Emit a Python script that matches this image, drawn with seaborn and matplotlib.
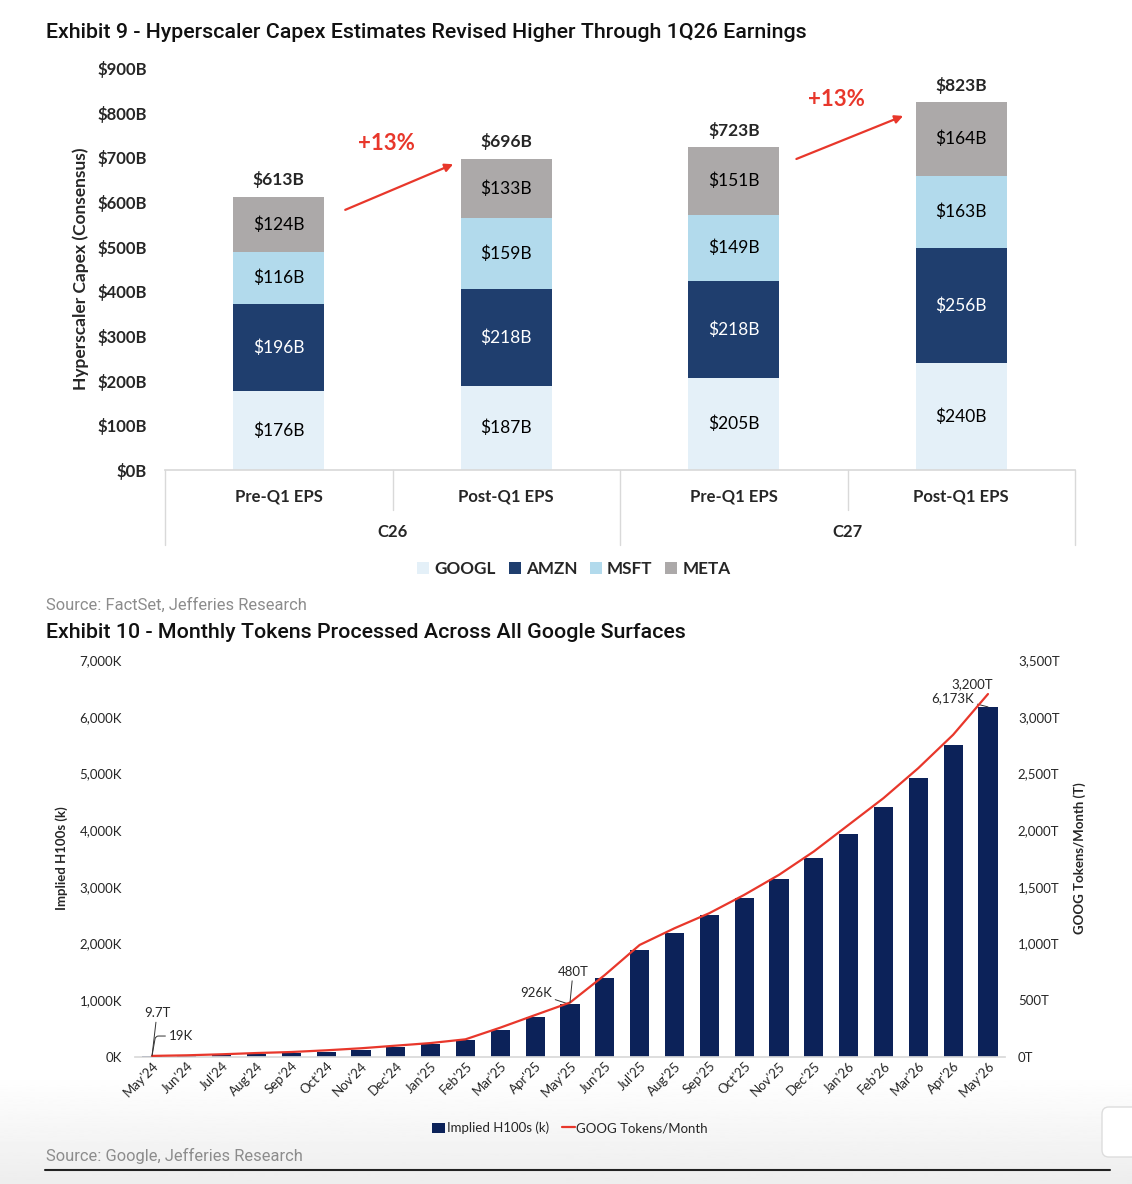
import numpy as np
import pandas as pd
import matplotlib.pyplot as plt
import matplotlib.transforms as mtransforms
from matplotlib.patches import Patch, FancyBboxPatch
from matplotlib.lines import Line2D
from matplotlib.ticker import FuncFormatter, MultipleLocator
import seaborn as sns

# ---- Exhibit 9 data (hyperscaler capex, $B) ----
bar_keys = ["C26 Pre", "C26 Post", "C27 Pre", "C27 Post"]
period_labels = ["Pre-Q1 EPS", "Post-Q1 EPS", "Pre-Q1 EPS", "Post-Q1 EPS"]
year_labels = ["C26", "C27"]
googl = [176, 187, 205, 240]
amzn = [196, 218, 218, 256]
msft = [116, 159, 149, 163]
meta = [124, 133, 151, 164]
totals = [613, 696, 723, 823]
growth_labels = ["+13%", "+13%"]

# ---- Exhibit 10 data ----
months = ["May'24", "Jun'24", "Jul'24", "Aug'24", "Sep'24", "Oct'24", "Nov'24", "Dec'24",
          "Jan'25", "Feb'25", "Mar'25", "Apr'25", "May'25", "Jun'25", "Jul'25", "Aug'25",
          "Sep'25", "Oct'25", "Nov'25", "Dec'25", "Jan'26", "Feb'26", "Mar'26", "Apr'26", "May'26"]
h100s_k = [19, 30, 40, 55, 70, 90, 125, 170, 230, 295, 480, 700, 926, 1400, 1890,
           2195, 2505, 2800, 3135, 3505, 3930, 4400, 4920, 5510, 6173]
tokens_t = [9.7, 15, 24, 35, 44, 59, 77, 100, 123, 156, 259, 370, 480, 723, 988,
            1135, 1268, 1429, 1606, 1812, 2047, 2282, 2547, 2841, 3200]

sns.set_theme(style="white")
plt.rcParams["font.family"] = ["Lato", "DejaVu Sans"]

colors = {"GOOGL": "#E4F0F8", "AMZN": "#1F3E6E", "MSFT": "#B2DAEC", "META": "#ACA9A9"}
navy = "#0C2259"
red = "#E8372B"

fig = plt.figure(figsize=(11.32, 11.84), dpi=100)

# faint grey fade at the bottom of the page
bg = fig.add_axes([0, 0, 1, 110 / 1184], zorder=-10)
grad = np.linspace(0.93, 1.0, 100).reshape(-1, 1)
bg.imshow(grad, aspect="auto", cmap="gray", vmin=0, vmax=1, origin="lower",
          extent=[0, 1, 0, 1])
bg.set_axis_off()

# ================= Exhibit 9 =================
ax = fig.add_axes([165 / 1132, 1 - 470 / 1184, 910 / 1132, 402 / 1184])
df = pd.DataFrame({"bar": bar_keys, "GOOGL": googl, "AMZN": amzn, "MSFT": msft, "META": meta})
stack = ["GOOGL", "AMZN", "MSFT", "META"]
cum = df[stack].cumsum(axis=1)
cum["bar"] = bar_keys
# stacked look: draw cumulative bars from the top layer down
for name in reversed(stack):
    sns.barplot(data=cum, x="bar", y=name, color=colors[name], width=0.4,
                saturation=1, errorbar=None, ax=ax, linewidth=0)

for name in stack:
    for i in range(len(bar_keys)):
        mid = cum[name][i] - df[name][i] / 2
        ax.text(i, mid, f"${df[name][i]}B", ha="center", va="center", fontsize=12.5,
                color="white" if name == "AMZN" else "black")
for i, t in enumerate(totals):
    ax.annotate(f"${t}B", (i, cum["META"][i]), xytext=(0, 6), textcoords="offset points",
                ha="center", va="bottom", fontsize=12.5, fontweight="bold")

# growth arrows
ax.annotate("", xy=(0.778, 687), xytext=(0.281, 580),
            arrowprops=dict(arrowstyle="-|>", color=red, lw=1.6, mutation_scale=12))
ax.annotate("", xy=(2.756, 795), xytext=(2.264, 694),
            arrowprops=dict(arrowstyle="-|>", color=red, lw=1.6, mutation_scale=12))
ax.text(0.475, 732, growth_labels[0], ha="center", va="center", color=red,
        fontsize=16, fontweight="bold")
ax.text(2.453, 830, growth_labels[1], ha="center", va="center", color=red,
        fontsize=16, fontweight="bold")

ax.set_xlim(-0.5, 3.5)
ax.set_ylim(0, 900)
ax.yaxis.set_major_locator(MultipleLocator(100))
ax.yaxis.set_major_formatter(FuncFormatter(lambda v, p: f"${v:.0f}B"))
ax.tick_params(axis="y", length=0, pad=13, labelsize=12)
for lab in ax.get_yticklabels():
    lab.set_fontweight("bold")
ax.set_xticks([])
ax.set_xlabel("")
ax.set_ylabel("Hyperscaler Capex (Consensus)", fontsize=12.5, fontweight="bold", labelpad=6)
for s in ["top", "right", "left"]:
    ax.spines[s].set_visible(False)
ax.spines["bottom"].set_color("#D9D9D9")

# multi-level category axis
trans = mtransforms.blended_transform_factory(ax.transData, ax.transAxes)
for xb in [-0.5, 1.5, 3.5]:
    ax.plot([xb, xb], [0, -0.187], transform=trans, color="#D9D9D9", lw=1, clip_on=False)
for xb in [0.5, 2.5]:
    ax.plot([xb, xb], [0, -0.100], transform=trans, color="#D9D9D9", lw=1, clip_on=False)
for i, lab in enumerate(period_labels):
    ax.text(i, -0.065, lab, transform=trans, ha="center", va="center", fontsize=12, fontweight="bold")
for j, lab in enumerate(year_labels):
    ax.text(2 * j + 0.5, -0.154, lab, transform=trans, ha="center", va="center",
            fontsize=12, fontweight="bold")

handles = [Patch(facecolor=colors[n], edgecolor="none", label=n) for n in stack]
leg = fig.legend(handles=handles, loc="center", bbox_to_anchor=(574 / 1132, 1 - 569 / 1184),
                 ncol=4, frameon=False, handlelength=0.7, handleheight=0.7,
                 handletextpad=0.3, columnspacing=0.75, prop=dict(size=12.3, weight="bold"))

fig.text(46 / 1132, 1 - 32 / 1184,
         "Exhibit 9 - Hyperscaler Capex Estimates Revised Higher Through 1Q26 Earnings",
         fontsize=15.4, fontweight="medium", family="Roboto", va="center", color="#111111")
fig.text(46 / 1132, 1 - 605 / 1184, "Source: FactSet, Jefferies Research",
         fontsize=11.9, family="Roboto", color="#8C8C8C", va="center")

# ================= Exhibit 10 =================
ax_b = fig.add_axes([134.6 / 1132, 1 - 1057 / 1184, 870.8 / 1132, 397 / 1184])
ax_b.patch.set_alpha(0)
sns.barplot(x=months, y=h100s_k, color=navy, width=0.55, saturation=1, ax=ax_b, linewidth=0)
ax_b.set_xlim(-0.5, len(months) - 0.5)
ax_b.set_ylim(0, 7000)
ax_b.yaxis.set_major_locator(MultipleLocator(1000))
ax_b.yaxis.set_major_formatter(FuncFormatter(lambda v, p: f"{v:,.0f}K"))
ax_b.tick_params(axis="both", length=0, labelsize=9.5)
ax_b.tick_params(axis="y", pad=9)
ax_b.tick_params(axis="x", pad=2)
plt.setp(ax_b.get_xticklabels(), rotation=45, ha="right", rotation_mode="anchor")
ax_b.set_ylabel("Implied H100s (k)", fontsize=9.5, fontweight="bold", labelpad=8)
for s in ["top", "right", "left"]:
    ax_b.spines[s].set_visible(False)
ax_b.spines["bottom"].set_color("#D9D9D9")

ax2 = ax_b.twinx()
sns.lineplot(x=np.arange(len(months)), y=tokens_t, ax=ax2, color=red, lw=1.6, sort=False)
ax2.set_ylim(0, 3500)
ax2.yaxis.set_major_locator(MultipleLocator(500))
ax2.yaxis.set_major_formatter(FuncFormatter(lambda v, p: f"{v:,.0f}T"))
ax2.tick_params(axis="y", length=0, labelsize=9.5, pad=9)
ax2.set_ylabel("GOOG Tokens/Month (T)", fontsize=9.5, fontweight="bold", labelpad=10)
for s in ["top", "right", "left", "bottom"]:
    ax2.spines[s].set_visible(False)

lk = dict(arrowstyle="-", color="#333333", lw=0.7, shrinkA=0, shrinkB=0)
ax2.annotate("9.7T", (0, tokens_t[0]), xytext=(3.6, 26.6), textcoords="offset points",
             ha="center", va="bottom", fontsize=9.5, arrowprops=lk)
ax_b.annotate("19K", (0, h100s_k[0]), xytext=(12, 10), textcoords="offset points",
              ha="left", va="bottom", fontsize=9.5,
              arrowprops=dict(lk, connectionstyle="angle,angleA=0,angleB=80,rad=3"))
ax_b.annotate("926K", (12, h100s_k[12]), xytext=(-13, 8), textcoords="offset points",
              ha="right", va="center", fontsize=9.5, arrowprops=lk)
ax2.annotate("480T", (12, tokens_t[12]), xytext=(2.2, 18), textcoords="offset points",
             ha="center", va="bottom", fontsize=9.5, arrowprops=lk)
ax_b.annotate("6,173K", (24, h100s_k[24]), xytext=(-10, 6.5), textcoords="offset points",
              ha="right", va="center", fontsize=9.5, arrowprops=lk)
ax2.annotate("3,200T", (24, tokens_t[24]), xytext=(-11.5, 3), textcoords="offset points",
             ha="center", va="bottom", fontsize=9.5)

leg_b = fig.legend(handles=[Patch(facecolor=navy, edgecolor="none", label="Implied H100s (k)"),
                            Line2D([0], [0], color=red, lw=1.6, label="GOOG Tokens/Month")],
                   loc="center", bbox_to_anchor=(570 / 1132, 1 - 1128 / 1184), ncol=2,
                   frameon=False, handlelength=1.0, handleheight=0.8, handletextpad=0.1,
                   columnspacing=1.0, prop=dict(size=9.5))

fig.text(46 / 1132, 1 - 632 / 1184,
         "Exhibit 10 - Monthly Tokens Processed Across All Google Surfaces",
         fontsize=15.4, fontweight="medium", family="Roboto", va="center", color="#111111")
fig.text(46 / 1132, 1 - 1156 / 1184, "Source: Google, Jefferies Research",
         fontsize=11.9, family="Roboto", color="#8C8C8C", va="center")
fig.add_artist(Line2D([45 / 1132, 1110 / 1132], [1 - 1170 / 1184] * 2, color="#222222", lw=1.5))
fig.add_artist(FancyBboxPatch((1102 / 1132, 1 - 1157 / 1184), 0.04, 50 / 1184,
                              boxstyle="round,pad=0,rounding_size=0.006", facecolor="white",
                              edgecolor="#DDDDDD", lw=1, transform=fig.transFigure))

fig.savefig("out.png", dpi=100, facecolor="white")
